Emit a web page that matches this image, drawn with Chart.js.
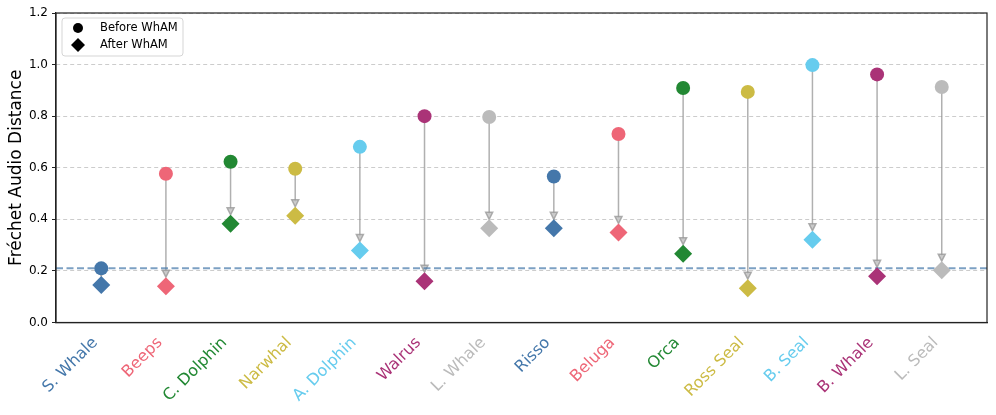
<!DOCTYPE html>
<html>
<head>
<meta charset="utf-8">
<script src="https://cdn.jsdelivr.net/npm/chart.js@4.4.1/dist/chart.umd.min.js"></script>
<style>
  html, body { margin: 0; padding: 0; background: #fff; }
  #wrap { width: 996px; height: 415px; }
</style>
</head>
<body>
<div id="wrap"><canvas id="chart"></canvas></div>
<script>
const categories = ['S. Whale', 'Beeps', 'C. Dolphin', 'Narwhal', 'A. Dolphin', 'Walrus', 'L. Whale',
                    'Risso', 'Beluga', 'Orca', 'Ross Seal', 'B. Seal', 'B. Whale', 'L. Seal'];
const beforeWham = [0.21, 0.577, 0.623, 0.596, 0.681, 0.800, 0.797, 0.566, 0.731, 0.909, 0.894, 0.998, 0.962, 0.913];
const afterWham  = [0.145, 0.141, 0.383, 0.414, 0.279, 0.160, 0.365, 0.365, 0.349, 0.267, 0.133, 0.321, 0.179, 0.203];
const baseline = 0.21;
const yTicks = [0, 0.2, 0.4, 0.6, 0.8, 1.0, 1.2];
const palette = ['#4477AA', '#EE6677', '#228833', '#CCBB44', '#66CCEE', '#AA3377', '#BBBBBB'];

const colorOf = (i) => palette[i % palette.length];
const FONT = "'DejaVu Sans', sans-serif";

// gray arrows from before -> after, drawn under the markers
const arrowPlugin = {
  id: 'arrows',
  beforeDatasetsDraw(chart) {
    const { ctx, scales: { x, y } } = chart;
    ctx.save();
    ctx.strokeStyle = 'rgba(150,150,150,0.75)';
    ctx.fillStyle = 'rgba(200,200,200,0.9)';
    ctx.lineWidth = 1.5;
    categories.forEach((c, i) => {
      const px = x.getPixelForValue(i);
      const y0 = y.getPixelForValue(beforeWham[i]);
      const tip = y.getPixelForValue(afterWham[i]) - 9;
      if (tip - y0 < 4) { return; }
      ctx.beginPath();
      ctx.moveTo(px, y0);
      ctx.lineTo(px, tip - 5);
      ctx.stroke();
      ctx.beginPath();
      ctx.moveTo(px, tip);
      ctx.lineTo(px - 3.5, tip - 7);
      ctx.lineTo(px + 3.5, tip - 7);
      ctx.closePath();
      ctx.fill();
      ctx.stroke();
    });
    ctx.restore();
  }
};

// black frame round the plot, y title and legend box
const framePlugin = {
  id: 'frame',
  afterDraw(chart) {
    const { ctx, chartArea: a } = chart;
    ctx.save();
    ctx.strokeStyle = '#222';
    ctx.lineWidth = 1.2;
    ctx.strokeRect(a.left, a.top, a.right - a.left, a.bottom - a.top);

    // y axis title, centred on the plot
    ctx.save();
    ctx.translate(17, (a.top + a.bottom) / 2);
    ctx.rotate(-Math.PI / 2);
    ctx.fillStyle = '#000';
    ctx.font = `17px ${FONT}`;
    ctx.textAlign = 'center';
    ctx.textBaseline = 'middle';
    ctx.fillText('Fréchet Audio Distance', 0, 0);
    ctx.restore();

    // legend
    const lx = a.left + 6, ly = a.top + 5, lw = 121, lh = 38;
    ctx.fillStyle = 'rgba(255,255,255,0.85)';
    ctx.strokeStyle = '#d5d5d5';
    ctx.lineWidth = 1;
    ctx.beginPath();
    ctx.roundRect(lx, ly, lw, lh, 3);
    ctx.fill();
    ctx.stroke();

    ctx.fillStyle = '#000';
    ctx.beginPath();
    ctx.arc(lx + 16, ly + 10, 5, 0, Math.PI * 2);
    ctx.fill();
    ctx.beginPath();
    ctx.moveTo(lx + 16, ly + 20);
    ctx.lineTo(lx + 23, ly + 27);
    ctx.lineTo(lx + 16, ly + 34);
    ctx.lineTo(lx + 9, ly + 27);
    ctx.closePath();
    ctx.fill();

    ctx.font = `11.5px ${FONT}`;
    ctx.textBaseline = 'middle';
    ctx.fillText('Before WhAM', lx + 38, ly + 10);
    ctx.fillText('After WhAM', lx + 38, ly + 27);
    ctx.restore();
  }
};

const ctx = document.getElementById('chart').getContext('2d');
new Chart(ctx, {
  type: 'scatter',
  data: {
    datasets: [
      {
        label: 'baseline',
        type: 'line',
        data: [{ x: -0.7, y: baseline }, { x: categories.length - 0.3, y: baseline }],
        borderColor: 'rgba(68,119,170,0.7)',
        borderWidth: 2,
        borderDash: [7, 3.5],
        pointRadius: 0,
        order: 3
      },
      {
        label: 'Before WhAM',
        data: beforeWham.map((v, i) => ({ x: i, y: v })),
        pointStyle: 'circle',
        pointRadius: 7,
        pointBackgroundColor: categories.map((c, i) => colorOf(i)),
        pointBorderWidth: 0,
        order: 1
      },
      {
        label: 'After WhAM',
        data: afterWham.map((v, i) => ({ x: i, y: v })),
        pointStyle: 'rectRot',
        pointRadius: 9,
        pointBackgroundColor: categories.map((c, i) => colorOf(i)),
        pointBorderWidth: 0,
        order: 2
      }
    ]
  },
  options: {
    responsive: true,
    maintainAspectRatio: false,
    animation: false,
    layout: { padding: { top: 13, right: 9, left: 0, bottom: 0 } },
    plugins: {
      legend: { display: false },
      tooltip: { enabled: false }
    },
    scales: {
      x: {
        type: 'linear',
        min: -0.7,
        max: categories.length - 0.3,
        afterBuildTicks: (scale) => { scale.ticks = categories.map((c, i) => ({ value: i })); },
        afterFit: (scale) => { scale.height = 92.5; },
        grid: { display: false, drawTicks: true, tickLength: 5, tickColor: '#222' },
        border: { display: true, color: '#222', width: 1.2 },
        ticks: {
          minRotation: 45,
          maxRotation: 45,
          autoSkip: false,
          padding: 6,
          labelOffset: -6,
          font: { family: FONT, size: 16 },
          color: (c) => colorOf(c.tick ? c.tick.value : c.index),
          callback: (v) => categories[v]
        }
      },
      y: {
        min: 0,
        max: 1.2,
        afterBuildTicks: (scale) => { scale.ticks = yTicks.map((v) => ({ value: v })); },
        afterFit: (scale) => { scale.width = 56; },
        grid: {
          color: '#cccccc',
          tickColor: '#222',
          tickLength: 4,
          drawTicks: true
        },
        border: { display: true, color: '#222', width: 1.2, dash: [4, 3] },
        ticks: {
          padding: 4,
          font: { family: FONT, size: 12 },
          color: '#000',
          callback: (v) => Number(v).toFixed(1)
        }
      }
    }
  },
  plugins: [arrowPlugin, framePlugin]
});
</script>
</body>
</html>
